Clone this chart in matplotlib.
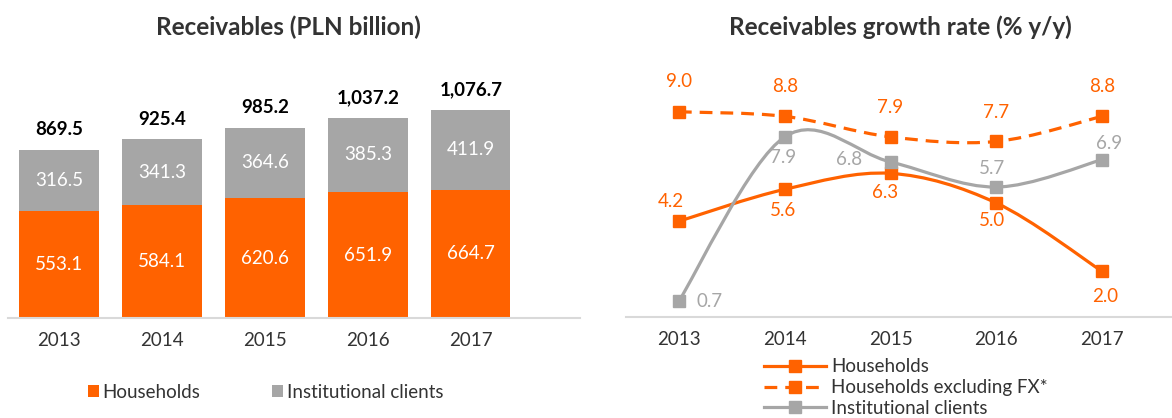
import matplotlib.pyplot as plt
import numpy as np
from matplotlib.path import Path
from matplotlib.patches import PathPatch
from matplotlib.lines import Line2D

plt.rcParams['font.family'] = ['Lato', 'DejaVu Sans']

years = ['2013', '2014', '2015', '2016', '2017']
households = [553.1, 584.1, 620.6, 651.9, 664.7]
institutional = [316.5, 341.3, 364.6, 385.3, 411.9]
totals = ['869.5', '925.4', '985.2', '1,037.2', '1,076.7']

growth_hh = [4.2, 5.6, 6.3, 5.0, 2.0]
growth_hh_exfx = [9.0, 8.8, 7.9, 7.7, 8.8]
growth_inst = [0.7, 7.9, 6.8, 5.7, 6.9]

ORANGE = '#FF6200'
GREY = '#A6A6A6'
TXT = '#333333'
AXIS = '#D9D9D9'

W, H = 1172, 418


def px_axes(x0, y0, x1, y1):
    # pixel box (top-left origin) -> figure coords
    return [x0 / W, 1 - y1 / H, (x1 - x0) / W, (y1 - y0) / H]


def smooth_path(x, y):
    # Excel-style smoothed line: cubic bezier with catmull-rom control points
    x = np.asarray(x, float)
    y = np.asarray(y, float)
    verts = [(x[0], y[0])]
    codes = [Path.MOVETO]
    n = len(x)
    for i in range(n - 1):
        p0 = (x[max(i - 1, 0)], y[max(i - 1, 0)])
        p1 = (x[i], y[i])
        p2 = (x[i + 1], y[i + 1])
        p3 = (x[min(i + 2, n - 1)], y[min(i + 2, n - 1)])
        c1 = (p1[0] + (p2[0] - p0[0]) / 6, p1[1] + (p2[1] - p0[1]) / 6)
        c2 = (p2[0] - (p3[0] - p1[0]) / 6, p2[1] - (p3[1] - p1[1]) / 6)
        verts += [c1, c2, p2]
        codes += [Path.CURVE4] * 3
    return Path(verts, codes)


fig = plt.figure(figsize=(W / 100, H / 100), dpi=100)

# ---- left: stacked bars
ax1 = fig.add_axes(px_axes(8, 60, 580, 318))
x = np.arange(len(years))
ax1.bar(x, households, width=0.77, color=ORANGE, label='Households')
ax1.bar(x, institutional, width=0.77, bottom=households, color=GREY,
        label='Institutional clients')
for i in range(len(years)):
    ax1.text(x[i], households[i] / 2, f'{households[i]:.1f}', ha='center',
             va='center', color='white', fontsize=13.5)
    ax1.text(x[i], households[i] + institutional[i] / 2, f'{institutional[i]:.1f}',
             ha='center', va='center', color='white', fontsize=13.5)
    ax1.text(x[i], households[i] + institutional[i] + 60, totals[i], ha='center',
             va='bottom', color='black', fontsize=13.5, fontweight='bold')
ax1.set_xlim(-0.495, 5.06)
ax1.set_ylim(0, 258 / 0.1932)
ax1.set_xticks(x)
ax1.set_xticklabels(years, fontsize=13.5, color=TXT)
ax1.set_yticks([])
for s in ['top', 'right', 'left']:
    ax1.spines[s].set_visible(False)
ax1.spines['bottom'].set_color(AXIS)
ax1.spines['bottom'].set_linewidth(1.5)
ax1.tick_params(axis='x', length=0, pad=10)
ax1.legend(loc='upper center', bbox_to_anchor=(0.45, -0.19), ncol=2, frameon=False,
           fontsize=13.5, handlelength=0.6, handleheight=0.6, handletextpad=0.2,
           columnspacing=3.8, labelcolor=TXT)
fig.text(288 / W, 1 - 27 / H, 'Receivables (PLN billion)', ha='center', va='center',
         fontsize=17.5, fontweight='bold', color=TXT)

# ---- right: growth lines
ax2 = fig.add_axes(px_axes(626, 60, 1172, 317))
series = [
    (growth_hh, ORANGE, '-', 'Households'),
    (growth_hh_exfx, ORANGE, (0, (4, 2.5)), 'Households excluding FX*'),
    (growth_inst, GREY, '-', 'Institutional clients'),
]
handles = []
for vals, col, ls, name in series:
    ax2.add_patch(PathPatch(smooth_path(x, vals), fill=False, edgecolor=col,
                            linewidth=2.3, linestyle=ls, capstyle='butt'))
    ax2.plot(x, vals, linestyle='none', marker='s', markersize=9, color=col, zorder=3)
    handles.append(Line2D([], [], color=col, linestyle=ls, linewidth=2.3, marker='s',
                          markersize=9, label=name))

# data labels: (dx points, dy points)
hh_off = [(-6, 14.5), (-1, -15), (-4, -14), (-3, -12.5), (2, -18)]
ex_off = [(0, 21.5), (0, 21.5), (0, 21.5), (0, 21), (0, 21.5)]
inst_off = [(22, 0), (-1, -15), (-30, 2), (-3, 13), (5, 11.5)]
for vals, offs, col in [(growth_hh, hh_off, ORANGE), (growth_hh_exfx, ex_off, ORANGE),
                        (growth_inst, inst_off, GREY)]:
    for i, v in enumerate(vals):
        ax2.annotate(f'{v:.1f}', (x[i], v), xytext=offs[i], textcoords='offset points',
                     ha='center', va='center', color=col, fontsize=13.5)

ax2.set_xlim(-0.5, 4.66)
ax2.set_ylim(0, 257 / 22.8)
ax2.set_xticks(x)
ax2.set_xticklabels(years, fontsize=13.5, color=TXT)
ax2.set_yticks([])
for s in ['top', 'right', 'left']:
    ax2.spines[s].set_visible(False)
ax2.spines['bottom'].set_color(AXIS)
ax2.spines['bottom'].set_linewidth(1.5)
ax2.tick_params(axis='x', length=0, pad=10)
ax2.legend(handles=handles, loc='upper left', bbox_to_anchor=(0.235, -0.125),
           frameon=False, fontsize=13.5, handlelength=3.3, handletextpad=0.3,
           labelspacing=0.2, borderpad=0, labelcolor=TXT)
fig.text(900 / W, 1 - 27 / H, 'Receivables growth rate (% y/y)', ha='center',
         va='center', fontsize=17.5, fontweight='bold', color=TXT)

fig.savefig('out.png', dpi=100)
